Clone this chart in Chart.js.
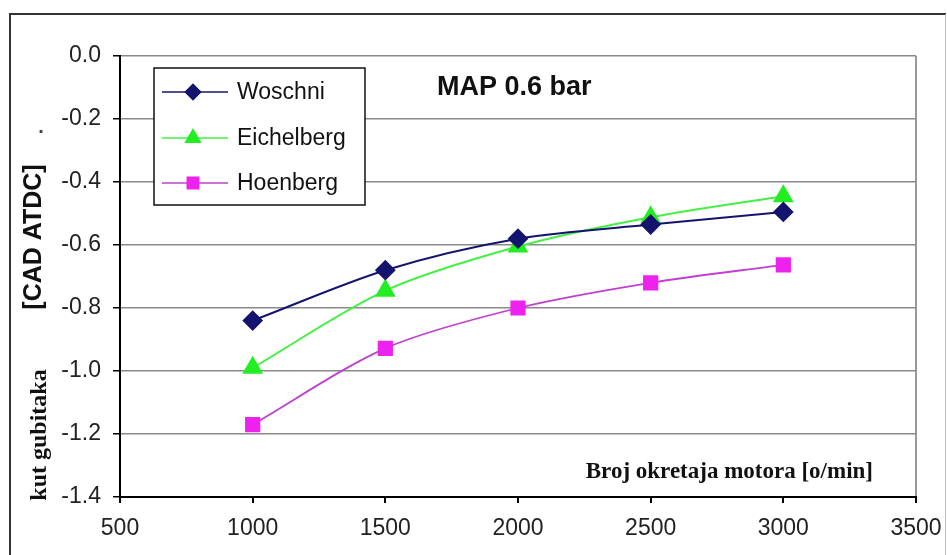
<!DOCTYPE html>
<html>
<head>
<meta charset="utf-8">
<script src="https://cdn.jsdelivr.net/npm/chart.js@4.4.1/dist/chart.umd.min.js"></script>
<style>
  html, body { margin: 0; padding: 0; background: #fff; }
  #wrap { position: relative; width: 947px; height: 555px; }
  canvas { display: block; }
</style>
</head>
<body>
<div id="wrap"><canvas id="c" width="947" height="555"></canvas></div>
<script>
// ---- data ----
const speeds = [1000, 1500, 2000, 2500, 3000];
const woschni = [-0.84, -0.68, -0.58, -0.535, -0.495];
const eichelberg = [-0.99, -0.745, -0.605, -0.512, -0.445];
const hoenberg = [-1.17, -0.928, -0.80, -0.72, -0.663];
const seriesNames = ['Woschni', 'Eichelberg', 'Hoenberg'];
const xTicks = [500, 1000, 1500, 2000, 2500, 3000, 3500];
const yTicks = [0.0, -0.2, -0.4, -0.6, -0.8, -1.0, -1.2, -1.4];
const chartNote = 'MAP 0.6 bar';
const xTitle = 'Broj okretaja motora [o/min]';
const yTitleA = 'kut gubitaka';
const yTitleB = '[CAD ATDC]';

const pts = (vals) => speeds.map((s, i) => ({ x: s, y: vals[i] }));

const styles = [
  { color: '#14146e', fill: '#14146e', style: 'rectRot', r: 9, lw: 2 },
  { color: '#44f044', fill: '#22ee22', style: 'triangle', r: 10, lw: 2 },
  { color: '#c040d0', fill: '#ee22ee', style: 'rect', r: 9.5, lw: 1.8 }
];
const allVals = [woschni, eichelberg, hoenberg];

const datasets = allVals.map((v, i) => ({
  label: seriesNames[i],
  data: pts(v),
  borderColor: styles[i].color,
  backgroundColor: styles[i].fill,
  pointBackgroundColor: styles[i].fill,
  pointBorderColor: styles[i].fill,
  pointStyle: styles[i].style,
  pointRadius: styles[i].r,
  borderWidth: styles[i].lw,
  tension: 0.3,
  fill: false
}));

const decor = {
  id: 'decor',
  beforeDraw(chart) {
    const ctx = chart.ctx;
    ctx.save();
    ctx.fillStyle = '#fff';
    ctx.fillRect(0, 0, chart.width, chart.height);
    // outer frame
    ctx.strokeStyle = '#333';
    ctx.lineWidth = 2;
    ctx.beginPath();
    ctx.moveTo(10, 560); ctx.lineTo(10, 14); ctx.lineTo(946, 14);
    ctx.stroke();
    ctx.strokeStyle = '#bbb';
    ctx.lineWidth = 1;
    ctx.beginPath();
    ctx.moveTo(945.5, 14); ctx.lineTo(945.5, 560);
    ctx.stroke();
    ctx.restore();
  },
  afterDatasetsDraw(chart) {
    const ctx = chart.ctx;
    ctx.save();
    // legend box
    const bx = 154, by = 68, bw = 211, bh = 137;
    ctx.fillStyle = '#fff';
    ctx.fillRect(bx, by, bw, bh);
    ctx.strokeStyle = '#111';
    ctx.lineWidth = 1.5;
    ctx.strokeRect(bx, by, bw, bh);
    const rowsY = [92, 138, 183];
    chart.data.datasets.forEach((ds, i) => {
      const y = rowsY[i];
      ctx.strokeStyle = ds.borderColor;
      ctx.lineWidth = 1.5;
      ctx.beginPath();
      ctx.moveTo(162, y); ctx.lineTo(228, y);
      ctx.stroke();
      ctx.fillStyle = ds.pointBackgroundColor;
      ctx.strokeStyle = ds.pointBorderColor;
      Chart.helpers.drawPoint(ctx, { pointStyle: ds.pointStyle, radius: ds.pointRadius * 0.85, borderWidth: 1, rotation: 0 }, 193, y);
      ctx.fillStyle = '#111';
      ctx.font = '23px "Liberation Sans", Arial, sans-serif';
      ctx.textBaseline = 'middle';
      ctx.textAlign = 'left';
      ctx.fillText(ds.label, 237, y + 1);
    });
    // note
    ctx.fillStyle = '#111';
    ctx.font = 'bold 27px "Liberation Sans", Arial, sans-serif';
    ctx.textBaseline = 'alphabetic';
    ctx.fillText(chartNote, 437, 95);
    // x title inside plot
    ctx.font = 'bold 23px "Liberation Serif", "Times New Roman", serif';
    ctx.textAlign = 'right';
    ctx.fillText(xTitle, 873, 478);
    // y titles rotated
    ctx.save();
    ctx.translate(46, 435);
    ctx.rotate(-Math.PI / 2);
    ctx.textAlign = 'center';
    ctx.font = 'bold 24px "Liberation Serif", "Times New Roman", serif';
    ctx.fillText(yTitleA, 0, 0);
    ctx.restore();
    ctx.save();
    ctx.translate(41, 237);
    ctx.rotate(-Math.PI / 2);
    ctx.textAlign = 'center';
    ctx.font = 'bold 25px "Liberation Sans", Arial, sans-serif';
    ctx.fillText(yTitleB, 0, 0);
    ctx.restore();
    ctx.fillStyle = '#444';
    ctx.font = 'bold 20px "Liberation Sans", Arial, sans-serif';
    ctx.textAlign = 'center';
    ctx.fillText('.', 41, 133);
    ctx.restore();
  }
};

new Chart(document.getElementById('c'), {
  type: 'line',
  data: { datasets },
  options: {
    responsive: false,
    animation: false,
    devicePixelRatio: 1,
    layout: { padding: { left: 0, top: 56, right: 31, bottom: 0 } },
    plugins: { legend: { display: false }, tooltip: { enabled: false }, title: { display: false } },
    scales: {
      x: {
        type: 'linear',
        min: 500, max: 3500,
        afterBuildTicks: (s) => { s.ticks = xTicks.map(v => ({ value: v })); },
        afterFit: (s) => { s.height = 58; s.paddingLeft = 0; s.paddingRight = 0; },
        border: { color: '#000', width: 2 },
        grid: {
          color: (c) => (c.tick && c.tick.value === 3500 ? '#999' : 'rgba(0,0,0,0)'),
          lineWidth: 2,
          tickColor: '#000',
          tickLength: 6
        },
        ticks: {
          color: '#222',
          font: { family: '"Liberation Sans", Arial, sans-serif', size: 23 },
          padding: 12,
          maxRotation: 0,
          callback: (v) => String(v)
        }
      },
      y: {
        type: 'linear',
        min: -1.4, max: 0,
        afterBuildTicks: (s) => { s.ticks = yTicks.map(v => ({ value: v })); },
        afterFit: (s) => { s.width = 120; s.paddingTop = 0; s.paddingBottom = 0; },
        border: { color: '#000', width: 2 },
        grid: {
          color: '#8a8a8a',
          lineWidth: 1.5,
          tickColor: '#000',
          tickLength: 7
        },
        ticks: {
          color: '#222',
          font: { family: '"Liberation Sans", Arial, sans-serif', size: 23 },
          padding: 12,
          callback: (v) => Number(v).toFixed(1)
        }
      }
    }
  },
  plugins: [decor]
});
</script>
</body>
</html>
